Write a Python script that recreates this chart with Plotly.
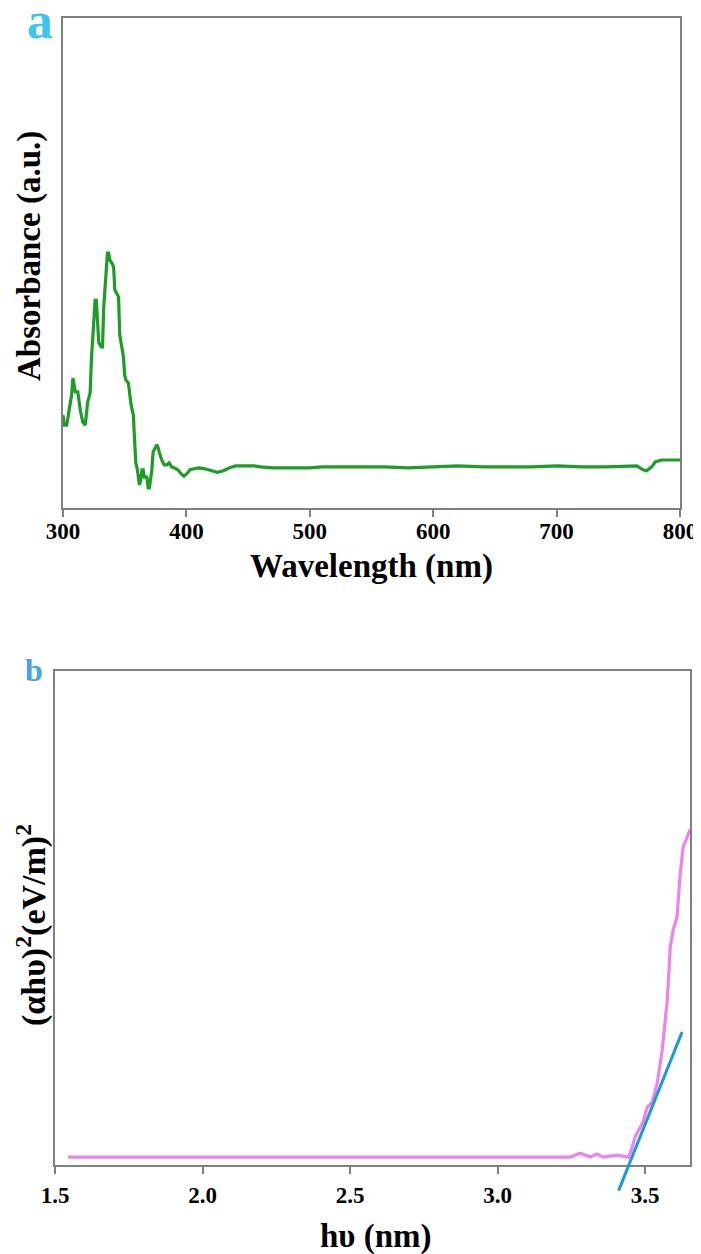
"""UV-Vis absorbance spectrum (a) and Tauc plot (b), rebuilt with Plotly."""

import plotly.graph_objects as go

# panel a: absorbance spectrum
wavelength = [
    300, 301, 303, 305, 307, 308, 309, 310, 312, 314, 316, 318, 320, 322, 323,
    324, 325, 326, 327, 328, 329, 331, 332, 333, 334, 335, 336, 337, 338, 340,
    341, 342, 344, 345, 346, 348, 349, 350, 351, 353, 354, 355, 356, 357, 358,
    359, 360, 361, 362, 363, 364, 365, 366, 368, 369, 370, 371, 372, 373, 374,
    375, 376, 377, 378, 379, 380, 382, 384, 386, 388, 390, 393, 396, 398, 400,
    403, 406, 410, 415, 420, 425, 430, 435, 440, 450, 455, 460, 470, 480, 500,
    510, 530, 560, 580, 600, 620, 640, 680, 700, 720, 740, 760, 765, 770, 773,
    777, 780, 785, 800,
]
absorbance = [
    0.190, 0.169, 0.169, 0.196, 0.231, 0.265, 0.251, 0.237, 0.237, 0.200, 0.176,
    0.169, 0.216, 0.235, 0.302, 0.349, 0.388, 0.424, 0.424, 0.363, 0.337, 0.329,
    0.329, 0.410, 0.445, 0.465, 0.520, 0.520, 0.506, 0.498, 0.492, 0.445, 0.435,
    0.431, 0.353, 0.322, 0.308, 0.271, 0.261, 0.255, 0.231, 0.214, 0.200, 0.190,
    0.139, 0.092, 0.082, 0.067, 0.047, 0.057, 0.078, 0.078, 0.063, 0.063, 0.041,
    0.041, 0.057, 0.078, 0.114, 0.118, 0.124, 0.129, 0.124, 0.114, 0.104, 0.098,
    0.088, 0.088, 0.092, 0.084, 0.082, 0.078, 0.069, 0.065, 0.069, 0.078, 0.080,
    0.082, 0.080, 0.076, 0.073, 0.076, 0.082, 0.086, 0.086, 0.086, 0.084, 0.082,
    0.082, 0.082, 0.084, 0.084, 0.084, 0.082, 0.084, 0.086, 0.084, 0.084, 0.086,
    0.084, 0.084, 0.086, 0.086, 0.078, 0.076, 0.084, 0.094, 0.098, 0.098,
]

# panel b: Tauc plot
photon_energy = [
    1.544, 3.246, 3.280, 3.314, 3.337, 3.358, 3.405, 3.444, 3.456, 3.466, 3.493,
    3.507, 3.524, 3.541, 3.558, 3.568, 3.575, 3.585, 3.595, 3.608, 3.619, 3.629,
    3.639, 3.653,
]
tauc_value = [
    0.016, 0.016, 0.024, 0.016, 0.022, 0.016, 0.020, 0.016, 0.036, 0.057, 0.087,
    0.117, 0.127, 0.166, 0.233, 0.300, 0.334, 0.441, 0.476, 0.502, 0.591, 0.644,
    0.658, 0.680,
]
# linear fit used to read the band gap
fit_energy = [3.408, 3.625]
fit_value = [-0.055, 0.269]

wavelength_ticks = [300, 400, 500, 600, 700, 800]
energy_ticks = [1.5, 2.0, 2.5, 3.0, 3.5]

FONT = "Liberation Serif, Times New Roman, serif"
AXIS_GREY = "#808080"
PAGE_OFFSET = 8  # default body margin of the html page
W, H = 701 - PAGE_OFFSET, 1254 - PAGE_OFFSET  # fit the window without scrolling


def fx(px):
    """Page pixel column -> paper fraction."""
    return (px - PAGE_OFFSET) / W


def fy(py):
    """Page pixel row -> paper fraction."""
    return 1 - (py - PAGE_OFFSET) / H


fig = go.Figure()

fig.add_trace(go.Scatter(
    x=wavelength, y=absorbance, mode="lines",
    line={"color": "#1e9c28", "width": 3.2},
    xaxis="x", yaxis="y",
))
fig.add_trace(go.Scatter(
    x=photon_energy, y=tauc_value, mode="lines",
    line={"color": "#ee82ee", "width": 3.2},
    xaxis="x2", yaxis="y2",
))

# the fit line runs below the x axis, so draw it as an unclipped arrow
fig.add_annotation(
    x=fit_energy[1], y=fit_value[1], xref="x2", yref="y2",
    ax=fit_energy[0], ay=fit_value[0], axref="x2", ayref="y2",
    text="", showarrow=True, arrowhead=0, arrowwidth=3,
    arrowcolor="#1c9bd0", standoff=0, startstandoff=0,
)

common_axis = dict(
    showline=True, linecolor=AXIS_GREY, linewidth=2, mirror=True,
    showgrid=False, zeroline=False, automargin=False,
)
x_tick_style = dict(
    ticks="outside", ticklen=7, tickwidth=2, tickcolor=AXIS_GREY,
    ticklabeloverflow="allow",
    tickfont={"family": FONT, "size": 23, "color": "black", "weight": "bold"},
)

fig.update_layout(
    width=W, height=H, autosize=False,
    margin={"l": 0, "r": 0, "t": 0, "b": 0, "autoexpand": False},
    paper_bgcolor="white", plot_bgcolor="white",
    showlegend=False,
    xaxis=dict(
        domain=[fx(63), fx(680)], anchor="y", range=[300, 800],
        tickvals=wavelength_ticks, ticklabelstandoff=-6,
        **common_axis, **x_tick_style,
    ),
    yaxis=dict(
        domain=[fy(508), fy(18)], anchor="x", range=[0, 1],
        showticklabels=False, ticks="", **common_axis,
    ),
    xaxis2=dict(
        domain=[fx(55), fx(690)], anchor="y2", range=[1.5, 3.652],
        tickvals=energy_ticks, tickformat=".1f", ticklabelstandoff=1,
        **common_axis, **x_tick_style,
    ),
    yaxis2=dict(
        domain=[fy(1165), fy(671)], anchor="x2", range=[0, 1],
        showticklabels=False, ticks="", **common_axis,
    ),
)

title_font = {"family": FONT, "size": 33, "color": "black", "weight": "bold"}
labels = [
    dict(text="Wavelength (nm)", x=fx(371), y=fy(566), font=title_font),
    dict(text="Absorbance (a.u.)", x=fx(30), y=fy(256), font=title_font,
         textangle=-90),
    dict(text="hυ (nm)", x=fx(376), y=fy(1236), font=title_font),
    dict(text="(αhυ)<sup>2</sup>(eV/m)<sup>2</sup>", x=fx(31), y=fy(925),
         font=dict(title_font, size=34), textangle=-90),
    dict(text="a", x=fx(40), y=fy(21),
         font={"family": FONT, "size": 52, "color": "#3cc6ee", "weight": "bold"}),
    dict(text="b", x=fx(34), y=fy(670),
         font={"family": FONT, "size": 32, "color": "#4aa0e0", "weight": "bold"}),
]
for lab in labels:
    fig.add_annotation(xref="paper", yref="paper", showarrow=False,
                       xanchor="center", yanchor="middle", **lab)

fig.write_html("out.html")
